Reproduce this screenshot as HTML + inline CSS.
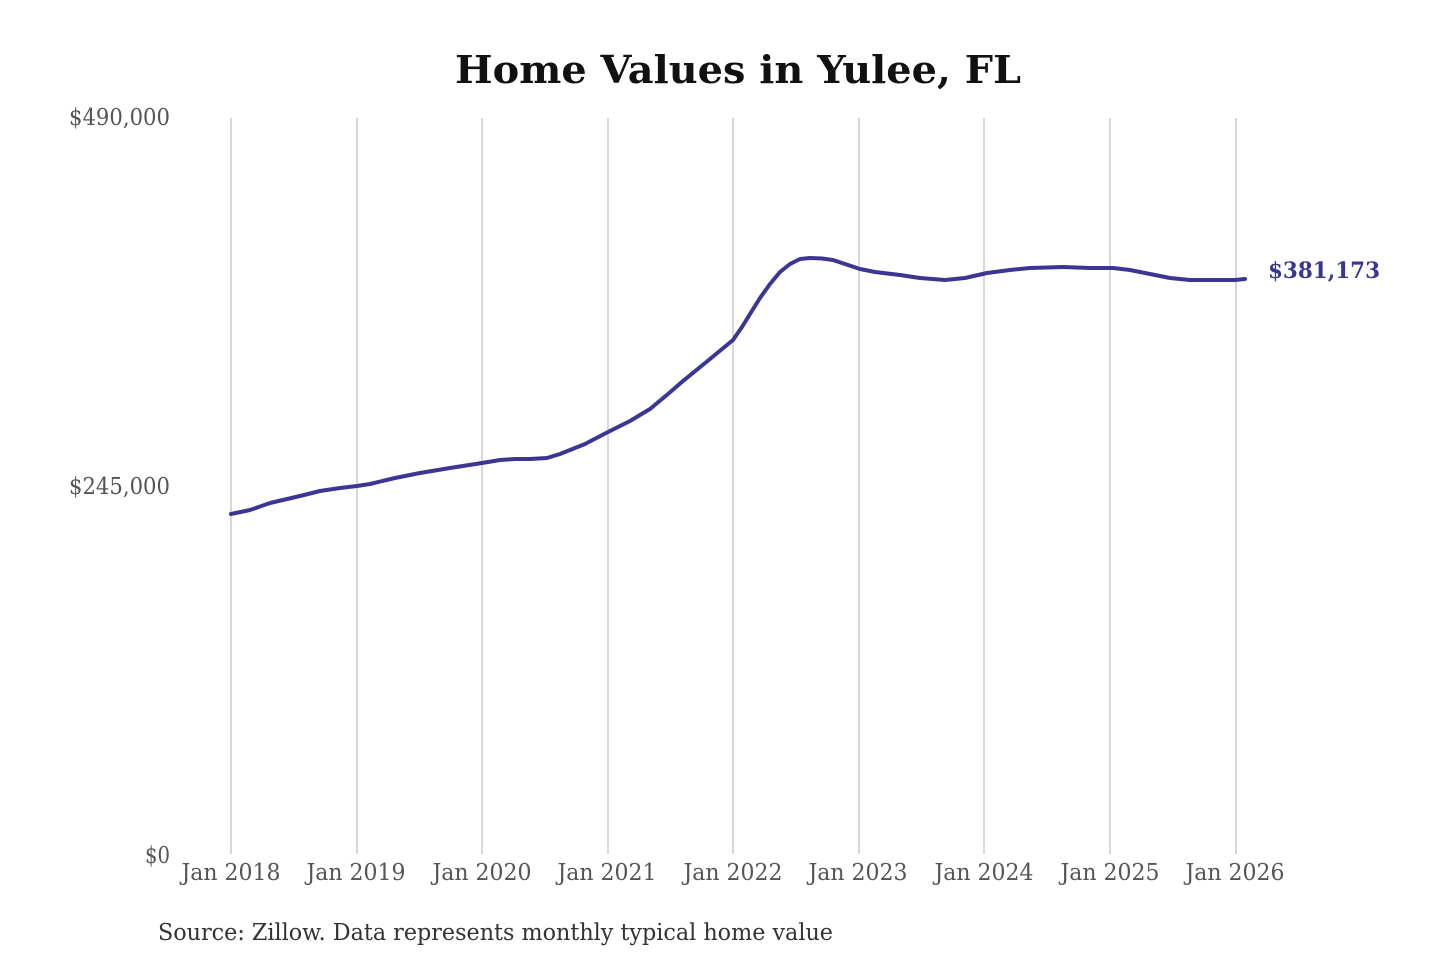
<!DOCTYPE html>
<html>
<head>
<meta charset="utf-8">
<style>
  html,body{margin:0;padding:0;background:#fff;}
  svg{display:block;}
  text{font-family:"DejaVu Serif","Liberation Serif",serif;}
</style>
</head>
<body>
<svg width="1440" height="960" viewBox="0 0 1440 960" xmlns="http://www.w3.org/2000/svg">
  <rect width="1440" height="960" fill="#fff"/>
  <!-- title -->
  <text x="455" y="83" font-size="38" font-weight="bold" fill="#111" textLength="566" lengthAdjust="spacingAndGlyphs">Home Values in Yulee, FL</text>

  <!-- gridlines -->
  <g stroke="#c4c4c4" stroke-width="1.3">
    <line x1="231" y1="118" x2="231" y2="854"/>
    <line x1="357" y1="118" x2="357" y2="854"/>
    <line x1="482" y1="118" x2="482" y2="854"/>
    <line x1="608" y1="118" x2="608" y2="854"/>
    <line x1="733" y1="118" x2="733" y2="854"/>
    <line x1="859" y1="118" x2="859" y2="854"/>
    <line x1="984" y1="118" x2="984" y2="854"/>
    <line x1="1110" y1="118" x2="1110" y2="854"/>
    <line x1="1236" y1="118" x2="1236" y2="854"/>
  </g>

  <!-- y labels -->
  <g font-size="23" fill="#555" text-anchor="end">
    <text x="170" y="125" textLength="101" lengthAdjust="spacingAndGlyphs">$490,000</text>
    <text x="170" y="494" textLength="101" lengthAdjust="spacingAndGlyphs">$245,000</text>
    <text x="170" y="863" textLength="25" lengthAdjust="spacingAndGlyphs">$0</text>
  </g>

  <!-- x labels -->
  <g font-size="23" fill="#555" text-anchor="middle">
    <text x="231" y="880" textLength="99" lengthAdjust="spacingAndGlyphs">Jan 2018</text>
    <text x="356" y="880" textLength="99" lengthAdjust="spacingAndGlyphs">Jan 2019</text>
    <text x="482" y="880" textLength="99" lengthAdjust="spacingAndGlyphs">Jan 2020</text>
    <text x="607" y="880" textLength="99" lengthAdjust="spacingAndGlyphs">Jan 2021</text>
    <text x="733" y="880" textLength="99" lengthAdjust="spacingAndGlyphs">Jan 2022</text>
    <text x="858" y="880" textLength="99" lengthAdjust="spacingAndGlyphs">Jan 2023</text>
    <text x="984" y="880" textLength="99" lengthAdjust="spacingAndGlyphs">Jan 2024</text>
    <text x="1110" y="880" textLength="99" lengthAdjust="spacingAndGlyphs">Jan 2025</text>
    <text x="1235" y="880" textLength="99" lengthAdjust="spacingAndGlyphs">Jan 2026</text>
  </g>

  <!-- series -->
  <polyline fill="none" stroke="#3b3594" stroke-width="4" stroke-linejoin="round" stroke-linecap="round"
    points="231,514 250,510 270,503 300,496 320,491 340,488 357,486 370,484 395,478 420,473 450,468 482,463 500,460 515,459 530,459 547,458 560,454 585,444 608,432 630,421 650,409 668,394 683,381 710,359 733,340 742,327 750,314 760,298 770,284 780,272 790,264 800,259 810,258 822,258.5 833,260 848,265 860,269 875,272 900,275 920,278 945,280 965,278 987,273 1010,270 1030,268 1063,267 1090,268 1113,268 1130,270 1150,274 1170,278 1190,280 1215,280 1235,280 1245,279"/>

  <!-- end label -->
  <text x="1268" y="278" font-size="22" font-weight="bold" fill="#3b3594" textLength="112" lengthAdjust="spacingAndGlyphs">$381,173</text>

  <!-- source -->
  <text x="158" y="940" font-size="23" fill="#333" textLength="675" lengthAdjust="spacingAndGlyphs">Source: Zillow. Data represents monthly typical home value</text>
</svg>
</body>
</html>
